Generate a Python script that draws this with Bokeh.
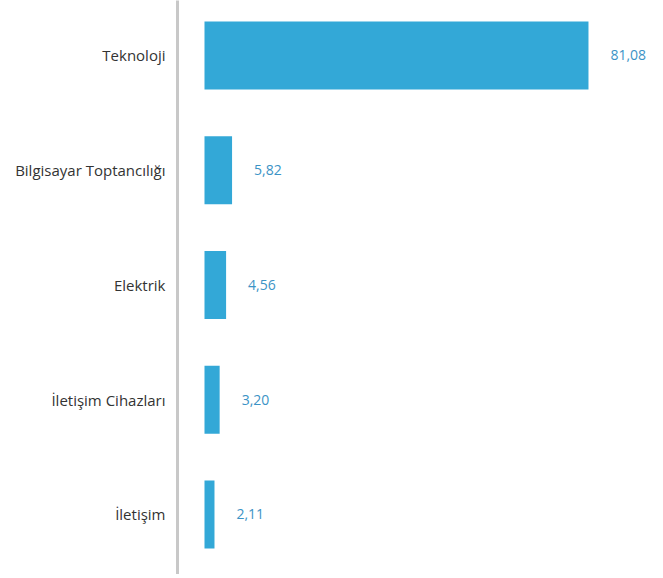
from bokeh.plotting import figure
from bokeh.models import ColumnDataSource, FixedTicker, Range1d
from bokeh.core.properties import value
from bokeh.embed import file_html
from bokeh.resources import INLINE

categories = ["Teknoloji", "Bilgisayar Toptancılığı", "Elektrik", "İletişim Cihazları", "İletişim"]
values = [81.08, 5.82, 4.56, 3.20, 2.11]

n = len(categories)
ypos = [n - 1 - i for i in range(n)]
labels = [f"{v:.2f}".replace(".", ",") for v in values]

src = ColumnDataSource(dict(y=ypos, v=values, lab=labels, cat=categories))

p = figure(width=663, height=574, output_backend="svg", toolbar_location=None,
           x_range=Range1d(-5.70, 96.92), y_range=Range1d(-0.523, 4.479),
           min_border_left=177, min_border_right=0, min_border_top=0, min_border_bottom=0)
p.outline_line_color = None
p.xgrid.visible = False
p.ygrid.visible = False
p.xaxis.visible = False

p.hbar(y="y", left=0, right="v", height=0.593, source=src,
       fill_color="#33a8d7", line_color=None)
p.text(x="v", y="y", text="lab", source=src, x_offset=22,
       text_align="left", text_baseline="middle",
       text_font=value("Open Sans"), text_font_size="14px", text_color="#3b93c6")

ya = p.yaxis[0]
ya.ticker = FixedTicker(ticks=ypos)
ya.major_label_overrides = {y: c for y, c in zip(ypos, categories)}
ya.axis_line_color = "#c8c8c8"
ya.axis_line_width = 3
ya.major_tick_line_color = None
ya.minor_tick_line_color = None
ya.major_tick_out = 0
ya.major_tick_in = 0
ya.major_label_standoff = 12
ya.major_label_text_font = "Open Sans"
ya.major_label_text_font_size = "15px"
ya.major_label_text_font_style = "normal"
ya.major_label_text_color = "#333333"

open("out.html", "w").write(file_html(p, INLINE))
